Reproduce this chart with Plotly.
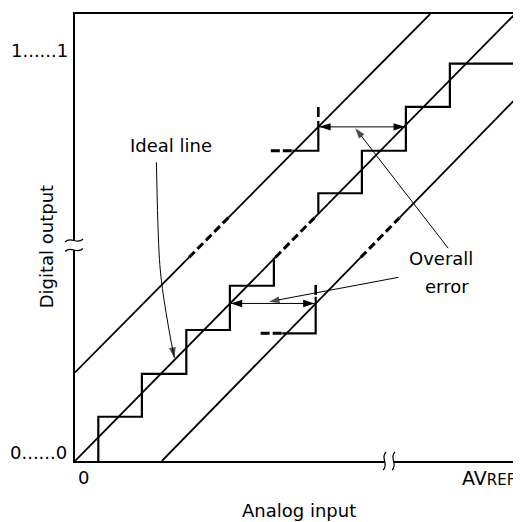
import plotly.graph_objects as go

# ---------------- data (LSB units) ----------------
ideal_x = [0.0, 10.0]
ideal_y = [0.0, 10.1]
upper_x = [0.0, 8.07]
upper_y = [2.0, 10.1]
lower_x = [1.975, 10.0]
lower_y = [0.0, 8.17]
omitted_y = [4.6, 5.5]          # section of the lines drawn dashed

# staircase, lower part and upper part (vertical-then-horizontal steps)
low_step_x = [0.53, 1.52, 2.53, 3.52, 4.52, 4.52]
low_step_y = [0.0, 1.0, 1.97, 2.96, 3.96, 4.59]
up_step_x = [5.53, 6.52, 7.52, 8.52, 10.0]
up_step_y = [5.60, 6.05, 7.01, 8.0, 8.98]

# shifted code transitions: [dash start, solid start, riser] / [level, solid top, dash top]
hi_step_x = [4.45, 4.94, 5.53]
hi_step_y = [7.01, 7.68, 8.0]
lo_step_x = [4.22, 4.71, 5.47]
lo_step_y = [2.885, 3.71, 3.98]

# overall-error arrows: [left tip, right tip], level
err_hi_x = [5.55, 7.50]
err_hi_y = 7.55
err_lo_x = [3.54, 5.445]
err_lo_y = 3.56

# tick / axis labels
y_tick_text = ["0......0", "1......1"]
x_tick_text = ["0", "AV<span style='font-size:15px'>REF</span>"]
x_title = "Analog input"
y_title = "Digital output"
label_ideal = "Ideal line"
label_err = ["Overall", "error"]

# leader lines (label -> target)
ideal_lead_x = [1.85, 1.92, 2.0, 2.19, 2.26]
ideal_lead_y = [6.75, 4.55, 3.80, 2.67, 2.33]
err_lead1_x = [8.48, 6.37]
err_lead1_y = [4.81, 7.52]
err_lead2_x = [7.35, 4.41]
err_lead2_y = [4.15, 3.60]

# ---------------- figure ----------------
PAGE_W, PAGE_H = 521, 522
BODY = 8                      # default page margin of the html body
W, H = PAGE_W - BODY, PAGE_H - BODY
L, T, PW, PH = 75, 14, 442, 447   # plot area in page pixels
FONT = "DejaVu Sans"
BLACK = "#000000"


def P(px, py):
    """page-pixel position -> paper coordinates (for decorations / labels)"""
    return (px - L) / PW, (T + PH - py) / PH


fig = go.Figure()


def split_line(xs, ys, yb):
    (x0, x1), (y0, y1) = xs, ys
    xa = x0 + (yb[0] - y0) * (x1 - x0) / (y1 - y0)
    xb = x0 + (yb[1] - y0) * (x1 - x0) / (y1 - y0)
    solid = ([x0, xa, None, xb, x1], [y0, yb[0], None, yb[1], y1])
    dashed = ([xa, xb], [yb[0], yb[1]])
    return solid, dashed


for xs, ys in [(ideal_x, ideal_y), (upper_x, upper_y), (lower_x, lower_y)]:
    (sx, sy), (dx, dy) = split_line(xs, ys, omitted_y)
    fig.add_trace(go.Scatter(x=sx, y=sy, mode="lines",
                             line=dict(color=BLACK, width=1.8)))
    fig.add_trace(go.Scatter(x=dx, y=dy, mode="lines",
                             line=dict(color=BLACK, width=3, dash="8px,4px")))

# staircases
for sx, sy in [(low_step_x, low_step_y), (up_step_x, up_step_y)]:
    fig.add_trace(go.Scatter(x=sx, y=sy, mode="lines",
                             line=dict(color=BLACK, width=2.2, shape="vh")))

# shifted transitions
for sx, sy in [(hi_step_x, hi_step_y), (lo_step_x, lo_step_y)]:
    fig.add_trace(go.Scatter(x=[sx[0], sx[1]], y=[sy[0], sy[0]], mode="lines",
                             line=dict(color=BLACK, width=3, dash="9px,3px")))
    fig.add_trace(go.Scatter(x=[sx[1], sx[2], sx[2]], y=[sy[0], sy[0], sy[1]], mode="lines",
                             line=dict(color=BLACK, width=2.2)))
    fig.add_trace(go.Scatter(x=[sx[2], sx[2]], y=[sy[2], sy[1]], mode="lines",
                             line=dict(color=BLACK, width=2.6, dash="10px,4px")))

# double-headed error arrows
for ex, ey in [(err_hi_x, err_hi_y), (err_lo_x, err_lo_y)]:
    fig.add_trace(go.Scatter(x=ex, y=[ey, ey], mode="lines+markers",
                             line=dict(color=BLACK, width=1),
                             marker=dict(symbol="arrow", size=12, color=BLACK,
                                         angle=[-90, 90], line=dict(width=0))))

# leader lines with arrowheads
for lx, ly, shp in [(ideal_lead_x, ideal_lead_y, "spline"),
                    (err_lead1_x, err_lead1_y, "linear"),
                    (err_lead2_x, err_lead2_y, "linear")]:
    sizes = [0] * (len(lx) - 1) + [11]
    fig.add_trace(go.Scatter(x=lx, y=ly, mode="lines+markers",
                             line=dict(color=BLACK, width=1, shape=shp),
                             marker=dict(symbol="arrow", size=sizes, color=BLACK,
                                         angleref="previous", line=dict(width=0))))

# ---------------- axis-break symbols ----------------
shapes = []


def tilde_h(x0, x1, y):
    a0, b0 = P(x0, y + 1.5)
    a1, b1 = P(x0 + 6, y - 5)
    a2, b2 = P(x1 - 6, y + 5)
    a3, b3 = P(x1, y - 1.5)
    return f"M{a0},{b0} C{a1},{b1} {a2},{b2} {a3},{b3}", (a0, b0, a1, b1, a2, b2, a3, b3)


def tilde_v(x, y0, y1):
    a0, b0 = P(x + 1.5, y0)
    a1, b1 = P(x - 5, y0 + 6)
    a2, b2 = P(x + 5, y1 - 6)
    a3, b3 = P(x - 1.5, y1)
    return f"M{a0},{b0} C{a1},{b1} {a2},{b2} {a3},{b3}", (a0, b0, a1, b1, a2, b2, a3, b3)


def add_break(c1, c2, p1, p2):
    fill = (f"M{c1[0]},{c1[1]} C{c1[2]},{c1[3]} {c1[4]},{c1[5]} {c1[6]},{c1[7]} "
            f"L{c2[6]},{c2[7]} C{c2[4]},{c2[5]} {c2[2]},{c2[3]} {c2[0]},{c2[1]} Z")
    shapes.append(dict(type="path", path=fill, xref="paper", yref="paper",
                       fillcolor="white", line=dict(width=0), layer="above"))
    for p in (p1, p2):
        shapes.append(dict(type="path", path=p, xref="paper", yref="paper",
                           line=dict(color=BLACK, width=1.2), layer="above"))


p1, c1 = tilde_h(65, 83, 240.5)
p2, c2 = tilde_h(65, 83, 250.0)
add_break(c1, c2, p1, p2)
q1, d1 = tilde_v(386, 452, 470)
q2, d2 = tilde_v(395, 452, 470)
add_break(d1, d2, q1, q2)

# ---------------- text ----------------
ann = []


def text(s, px, py, size=18, xanchor="center", angle=0):
    x, y = P(px, py)
    ann.append(dict(text=s, x=x, y=y, xref="paper", yref="paper", showarrow=False,
                    xanchor=xanchor, yanchor="middle", textangle=angle,
                    font=dict(family=FONT, size=size, color=BLACK)))


text(y_tick_text[1], 39.2, 50)
text(y_tick_text[0], 38.3, 452.5)
text(x_tick_text[0], 84, 477)
text(x_tick_text[1], 461.7, 478.5, size=19, xanchor="left")
text(x_title, 300.5, 511)
text(y_title, 46.7, 246.5, angle=-90)
text(label_ideal, 171.5, 145.8)
text(label_err[0], 442.5, 258.5)
text(label_err[1], 449, 286.5)

fig.update_layout(
    width=W, height=H,
    margin=dict(l=L - BODY, r=W - (L - BODY) - PW, t=T - BODY, b=H - (T - BODY) - PH, pad=0),
    paper_bgcolor="white", plot_bgcolor="white",
    showlegend=False, shapes=shapes, annotations=ann,
    xaxis=dict(range=[0, 10], showgrid=False, zeroline=False, showticklabels=False,
               ticks="", showline=True, linecolor=BLACK, linewidth=2, mirror=True,
               fixedrange=True),
    yaxis=dict(range=[0, 10.1], showgrid=False, zeroline=False, showticklabels=False,
               ticks="", showline=True, linecolor=BLACK, linewidth=2, mirror=True,
               fixedrange=True),
)

fig.write_html("out.html", config={"displayModeBar": False})
